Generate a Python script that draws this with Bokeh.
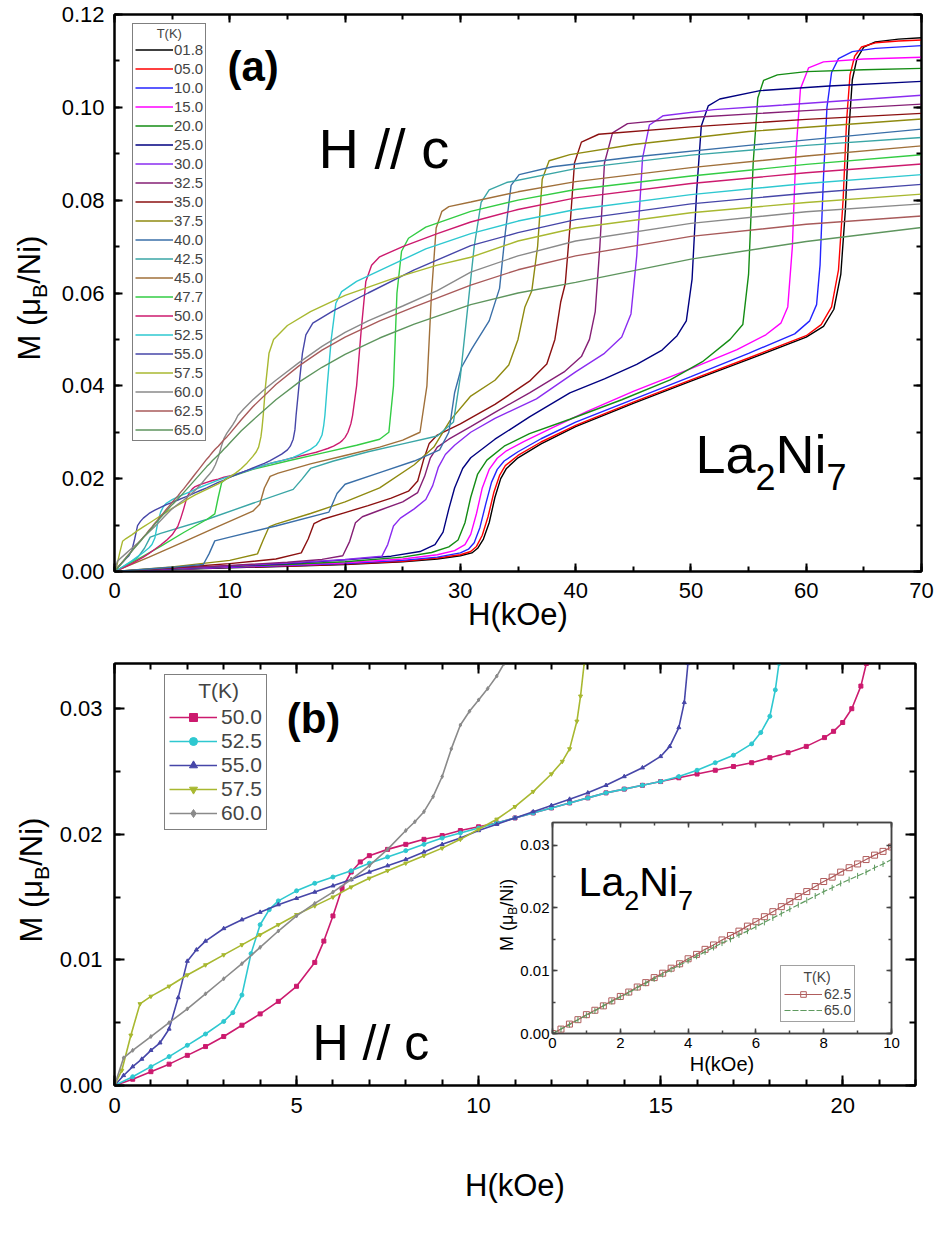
from math import pi
from bokeh.plotting import figure
from bokeh.layouts import column
from bokeh.models import (Range1d, LinearAxis, SingleIntervalTicker, PrintfTickFormatter,
                          CustomJSTickFormatter, Legend, LegendItem, Label)
from bokeh.embed import file_html
from bokeh.resources import INLINE

FONT = "Liberation Sans"
NB = "\u00a0"

# ------------------------------------------------------------------ panel (a) data
TEMPS_A = ["01.8", "05.0", "10.0", "15.0", "20.0", "25.0", "30.0", "32.5", "35.0", "37.5",
           "40.0", "42.5", "45.0", "47.7", "50.0", "52.5", "55.0", "57.5", "60.0", "62.5", "65.0"]
COLORS_A = ["#000000", "#ff0000", "#2424ff", "#ff00ff", "#148c14", "#000080", "#8a2cf0",
            "#851f75", "#8b1010", "#8f8a10", "#3a6fa8", "#3aa6a6", "#a0703a", "#33cc44",
            "#cc1a6e", "#2ec8d0", "#4646a8", "#a8b830", "#8a8a8a", "#a85a5a", "#5e955e"]

H_01_8 = [0, 5, 10, 15, 20, 25, 28, 30, 31, 31.5, 32.0, 32.5, 33.0, 33.5, 34.0, 35.0, 37.0, 40, 45, 50, 55, 60, 61.5, 62.4, 63.0, 63.4, 63.7, 64.0, 64.4, 65.0, 66, 68, 70]
M_01_8 = [0, 0.0004, 0.0008, 0.0011, 0.0015, 0.0021, 0.0027, 0.0034, 0.0040, 0.0050, 0.0070, 0.0105, 0.0160, 0.0200, 0.0222, 0.0245, 0.0275, 0.0312, 0.0362, 0.0410, 0.0457, 0.0505, 0.0528, 0.0565, 0.0640, 0.0780, 0.0950, 0.1060, 0.1105, 0.1130, 0.1141, 0.1147, 0.1150]
H_05_0 = [0, 5, 10, 15, 20, 25, 28, 30, 30.9, 31.4, 31.9, 32.4, 32.9, 33.4, 33.9, 35.0, 37.0, 40, 45, 50, 55, 60, 61.3, 62.2, 62.8, 63.2, 63.5, 63.8, 64.2, 64.8, 66, 68, 70]
M_05_0 = [0, 0.0005, 0.0009, 0.0012, 0.0016, 0.0022, 0.0029, 0.0036, 0.0043, 0.0054, 0.0078, 0.0118, 0.0170, 0.0207, 0.0228, 0.0250, 0.0279, 0.0315, 0.0365, 0.0413, 0.0460, 0.0508, 0.0532, 0.0570, 0.0650, 0.0800, 0.0970, 0.1070, 0.1110, 0.1130, 0.1139, 0.1143, 0.1145]
H_10_0 = [0, 5, 10, 15, 20, 25, 28, 30, 30.7, 31.2, 31.7, 32.2, 32.7, 33.2, 33.8, 35.0, 37.0, 40, 45, 50, 55, 59, 60.3, 60.9, 61.2, 61.5, 61.8, 62.2, 62.8, 64, 66, 70]
M_10_0 = [0, 0.0005, 0.0009, 0.0013, 0.0017, 0.0024, 0.0031, 0.0040, 0.0048, 0.0062, 0.0095, 0.0145, 0.0192, 0.0220, 0.0238, 0.0258, 0.0286, 0.0322, 0.0371, 0.0420, 0.0470, 0.0512, 0.0540, 0.0575, 0.0660, 0.0850, 0.1000, 0.1075, 0.1105, 0.1120, 0.1127, 0.1133]
H_15_0 = [0, 5, 10, 15, 20, 25, 28, 29.5, 30.4, 30.9, 31.4, 31.9, 32.5, 33.2, 34, 35.5, 38, 41, 45, 50, 54, 56.5, 57.8, 58.4, 58.8, 59.1, 59.5, 60.2, 61.5, 65, 70]
M_15_0 = [0, 0.0005, 0.0010, 0.0014, 0.0019, 0.0027, 0.0036, 0.0045, 0.0058, 0.0080, 0.0125, 0.0180, 0.0220, 0.0244, 0.0260, 0.0280, 0.0310, 0.0345, 0.0388, 0.0437, 0.0478, 0.0510, 0.0535, 0.0570, 0.0700, 0.0900, 0.1040, 0.1085, 0.1098, 0.1104, 0.1108]
H_20_0 = [0, 5, 10, 15, 20, 25, 27.5, 29, 29.8, 30.4, 30.9, 31.5, 32.3, 33.8, 36, 39.5, 44, 48.2, 51, 53.4, 54.5, 55.0, 55.4, 55.8, 56.3, 57.5, 60, 65, 70]
M_20_0 = [0, 0.0005, 0.0011, 0.0015, 0.0021, 0.0031, 0.0041, 0.0053, 0.0068, 0.0105, 0.0160, 0.0210, 0.0240, 0.0270, 0.0297, 0.0328, 0.0370, 0.0413, 0.0452, 0.0500, 0.0532, 0.0640, 0.0880, 0.1020, 0.1058, 0.1070, 0.1077, 0.1081, 0.1084]
H_25_0 = [0, 5, 10, 15, 20, 24, 26.5, 27.8, 28.5, 29.0, 29.5, 30.2, 30.9, 33, 36, 39.5, 42.5, 45.3, 47.5, 48.8, 49.6, 50.1, 50.5, 50.9, 51.5, 52.5, 56, 62, 70]
M_25_0 = [0, 0.0006, 0.0012, 0.0017, 0.0025, 0.0033, 0.0043, 0.0058, 0.0085, 0.0135, 0.0180, 0.0222, 0.0245, 0.0285, 0.0333, 0.0385, 0.0415, 0.0446, 0.0477, 0.0508, 0.0540, 0.0630, 0.0820, 0.0960, 0.1003, 0.1018, 0.1036, 0.1046, 0.1056]
H_30_0 = [0, 5, 10, 15, 20, 23.2, 23.7, 24.2, 24.8, 26.0, 27.0, 27.6, 28.1, 28.7, 29.5, 30.9, 33, 36.6, 40, 42.5, 44.0, 44.8, 45.3, 45.8, 46.4, 47.6, 52, 58, 70]
M_30_0 = [0, 0.0006, 0.0012, 0.0018, 0.0026, 0.0033, 0.0058, 0.0098, 0.0115, 0.0135, 0.0155, 0.0185, 0.0225, 0.0252, 0.0272, 0.0300, 0.0330, 0.0372, 0.0430, 0.0470, 0.0505, 0.0555, 0.0680, 0.0890, 0.0962, 0.0982, 0.0995, 0.1005, 0.1026]
H_32_5 = [0, 5, 10, 15, 18, 19.8, 20.4, 20.9, 21.5, 23, 25, 26.3, 26.9, 27.4, 28.0, 29, 30.9, 33, 36, 39, 40.5, 41.2, 41.7, 42.1, 42.5, 43.2, 44.5, 50, 60, 70]
M_32_5 = [0, 0.0007, 0.0013, 0.0020, 0.0026, 0.0034, 0.0065, 0.0105, 0.0118, 0.0132, 0.0150, 0.0170, 0.0205, 0.0245, 0.0268, 0.0285, 0.0312, 0.0343, 0.0385, 0.0430, 0.0463, 0.0500, 0.0560, 0.0700, 0.0880, 0.0945, 0.0965, 0.0978, 0.0993, 0.1007]
H_35_0 = [0, 5, 10, 14, 16.2, 16.8, 17.3, 18, 20, 22, 24, 25.5, 26.3, 26.8, 27.3, 28, 30, 33, 36, 37.5, 38.2, 38.7, 39.1, 39.5, 39.9, 40.5, 42, 50, 60, 70]
M_35_0 = [0, 0.0008, 0.0017, 0.0027, 0.0040, 0.0070, 0.0103, 0.0112, 0.0127, 0.0142, 0.0158, 0.0173, 0.0195, 0.0240, 0.0276, 0.0294, 0.0318, 0.0360, 0.0410, 0.0447, 0.0500, 0.0580, 0.0620, 0.0740, 0.0880, 0.0925, 0.0942, 0.0958, 0.0974, 0.0987]
H_37_5 = [0, 5, 10, 12.4, 12.9, 13.4, 14, 17, 20, 23, 26, 27.7, 29.1, 30.9, 33.0, 34.2, 35.0, 35.6, 36.2, 36.7, 37.1, 37.7, 39.5, 45, 55, 70]
M_37_5 = [0, 0.0010, 0.0024, 0.0038, 0.0068, 0.0096, 0.0102, 0.0125, 0.0150, 0.0180, 0.0230, 0.0268, 0.0325, 0.0378, 0.0412, 0.0445, 0.0500, 0.0570, 0.0605, 0.0700, 0.0845, 0.0885, 0.0898, 0.0920, 0.0948, 0.0975]
H_40_0 = [0, 5, 7.7, 8.2, 8.7, 10, 14, 18.6, 19.3, 20.0, 23, 26, 28.2, 29.0, 29.5, 30.1, 31, 32.5, 33.4, 33.9, 34.4, 35.1, 38, 45, 55, 70]
M_40_0 = [0, 0.0009, 0.0015, 0.0038, 0.0066, 0.0074, 0.0098, 0.0128, 0.0168, 0.0188, 0.0213, 0.0238, 0.0262, 0.0300, 0.0385, 0.0440, 0.0480, 0.0540, 0.0610, 0.0730, 0.0832, 0.0855, 0.0872, 0.0893, 0.0918, 0.0953]
H_42_5 = [0, 1, 2, 2.6, 3.1, 4, 8, 12, 15.5, 16.3, 17.0, 19, 22, 25, 28, 29.4, 30.0, 30.6, 31.2, 31.8, 32.5, 34, 40, 50, 60, 70]
M_42_5 = [0, 0.0014, 0.0030, 0.0050, 0.0074, 0.0082, 0.0112, 0.0147, 0.0177, 0.0200, 0.0222, 0.0238, 0.0258, 0.0275, 0.0292, 0.0322, 0.0420, 0.0560, 0.0700, 0.0795, 0.0822, 0.0838, 0.0868, 0.0897, 0.0918, 0.0935]
H_45_0 = [0, 3, 6, 9, 12, 12.6, 13.0, 13.5, 14.2, 17, 20, 23, 25, 26.5, 27.1, 27.5, 27.9, 28.4, 29, 30.9, 35, 40, 50, 60, 70]
M_45_0 = [0, 0.0031, 0.0064, 0.0097, 0.0130, 0.0145, 0.0180, 0.0205, 0.0212, 0.0232, 0.0250, 0.0268, 0.0283, 0.0300, 0.0400, 0.0600, 0.0740, 0.0776, 0.0786, 0.0796, 0.0818, 0.0840, 0.0870, 0.0895, 0.0917]
H_47_7 = [0, 2, 4, 6, 8, 8.7, 9.0, 9.3, 9.8, 12, 15, 18, 21, 23, 23.8, 24.2, 24.5, 24.9, 25.5, 27, 30.9, 35, 40, 50, 60, 70]
M_47_7 = [0, 0.0026, 0.0054, 0.0084, 0.0112, 0.0124, 0.0160, 0.0192, 0.0202, 0.0220, 0.0238, 0.0255, 0.0272, 0.0285, 0.0300, 0.0400, 0.0600, 0.0690, 0.0718, 0.0742, 0.0776, 0.0800, 0.0823, 0.0852, 0.0877, 0.0898]

# ------------------------------------------------------------------ panel (b) data (50-60 K, low field)
TEMPS_B = ["50.0", "52.5", "55.0", "57.5", "60.0"]
MARKERS_B = ["square", "circle", "triangle", "inverted_triangle", "diamond"]

H_B_50_0 = [0, 0.5, 1, 1.5, 2, 2.5, 3, 3.5, 4, 4.5, 5, 5.5, 5.75, 6.0, 6.25, 6.5, 6.75, 7, 7.5, 8, 8.5, 9, 9.5, 10, 10.5, 11, 11.5, 12, 12.5, 13, 13.5, 14, 14.5, 15, 15.5, 16, 16.5, 17, 17.5, 18, 18.5, 19, 19.5, 19.75, 20, 20.25, 20.5, 20.65]
M_B_50_0 = [0, 0.0005, 0.0011, 0.0017, 0.0024, 0.0031, 0.0039, 0.0048, 0.0057, 0.0067, 0.0079, 0.0098, 0.0115, 0.0135, 0.0157, 0.0170, 0.0178, 0.0183, 0.0188, 0.0192, 0.0196, 0.0199, 0.0203, 0.0206, 0.0209, 0.0213, 0.0217, 0.0221, 0.0225, 0.0229, 0.0233, 0.0236, 0.0239, 0.0242, 0.0245, 0.0248, 0.0251, 0.0254, 0.0257, 0.0261, 0.0265, 0.0270, 0.0277, 0.0282, 0.0289, 0.0300, 0.0318, 0.0336]
H_B_52_5 = [0, 0.5, 1, 1.5, 2, 2.5, 3, 3.25, 3.5, 3.75, 4, 4.25, 4.5, 5, 5.5, 6, 6.5, 7, 7.5, 8, 8.5, 9, 9.5, 10, 10.5, 11, 11.5, 12, 12.5, 13, 13.5, 14, 14.5, 15, 15.5, 16, 16.5, 17, 17.5, 17.75, 18, 18.15, 18.25]
M_B_52_5 = [0, 0.0007, 0.0015, 0.0023, 0.0032, 0.0041, 0.0051, 0.0058, 0.0072, 0.0105, 0.0128, 0.0140, 0.0147, 0.0155, 0.0161, 0.0166, 0.0171, 0.0177, 0.0182, 0.0187, 0.0192, 0.0197, 0.0201, 0.0205, 0.0209, 0.0213, 0.0217, 0.0221, 0.0225, 0.0229, 0.0233, 0.0236, 0.0239, 0.0242, 0.0246, 0.0251, 0.0257, 0.0263, 0.0272, 0.0281, 0.0294, 0.0315, 0.0336]
H_B_55_0 = [0, 0.25, 0.5, 0.75, 1, 1.25, 1.5, 1.75, 2, 2.25, 2.5, 3, 3.5, 4, 4.5, 5, 5.5, 6, 6.5, 7, 7.5, 8, 8.5, 9, 9.5, 10, 10.5, 11, 11.5, 12, 12.5, 13, 13.5, 14, 14.5, 15, 15.25, 15.5, 15.65, 15.75]
M_B_55_0 = [0, 0.0008, 0.0015, 0.0021, 0.0028, 0.0034, 0.0045, 0.0070, 0.0099, 0.0108, 0.0115, 0.0125, 0.0132, 0.0138, 0.0144, 0.0149, 0.0154, 0.0159, 0.0164, 0.0170, 0.0175, 0.0180, 0.0186, 0.0192, 0.0197, 0.0203, 0.0208, 0.0213, 0.0218, 0.0223, 0.0228, 0.0233, 0.0239, 0.0246, 0.0253, 0.0262, 0.0270, 0.0285, 0.0305, 0.0336]
H_B_57_5 = [0, 0.2, 0.45, 0.7, 1, 1.5, 2, 2.5, 3, 3.5, 4, 4.5, 5, 5.5, 6, 6.5, 7, 7.5, 8, 8.5, 9, 9.5, 10, 10.5, 11, 11.5, 12, 12.3, 12.5, 12.7, 12.8, 12.9]
M_B_57_5 = [0, 0.0012, 0.0040, 0.0065, 0.0071, 0.0079, 0.0088, 0.0096, 0.0104, 0.0112, 0.0120, 0.0128, 0.0136, 0.0143, 0.0150, 0.0158, 0.0165, 0.0171, 0.0177, 0.0183, 0.0189, 0.0196, 0.0204, 0.0212, 0.0222, 0.0234, 0.0248, 0.0258, 0.0268, 0.0290, 0.0310, 0.0336]
H_B_60_0 = [0, 0.25, 0.5, 1, 1.5, 2, 2.5, 3, 3.5, 4, 4.5, 5, 5.5, 6, 6.5, 7, 7.5, 8, 8.25, 8.5, 8.75, 9, 9.25, 9.5, 9.75, 10, 10.25, 10.5, 10.7]
M_B_60_0 = [0, 0.0022, 0.0028, 0.0039, 0.0050, 0.0061, 0.0073, 0.0085, 0.0097, 0.0110, 0.0123, 0.0135, 0.0145, 0.0154, 0.0164, 0.0175, 0.0188, 0.0203, 0.0210, 0.0218, 0.0230, 0.0246, 0.0268, 0.0287, 0.0298, 0.0307, 0.0316, 0.0326, 0.0336]

# high-field continuation of the 50-60 K curves (panel a)
H_X_50_0 = [21.0, 21.4, 21.8, 22.3, 23, 25, 28, 30.9, 35, 40, 50, 60, 70]
M_X_50_0 = [0.0400, 0.0520, 0.0625, 0.0660, 0.0678, 0.0700, 0.0728, 0.0753, 0.0780, 0.0805, 0.0836, 0.0859, 0.0878]
H_X_52_5 = [18.45, 18.8, 19.2, 19.7, 21, 24, 27, 30.9, 35, 40, 50, 60, 70]
M_X_52_5 = [0.0400, 0.0500, 0.0578, 0.0603, 0.0625, 0.0660, 0.0695, 0.0728, 0.0755, 0.0780, 0.0812, 0.0836, 0.0855]
H_X_55_0 = [16.0, 16.3, 16.6, 17.2, 19, 22, 26, 30.9, 35, 40, 50, 60, 70]
M_X_55_0 = [0.0400, 0.0470, 0.0510, 0.0535, 0.0562, 0.0600, 0.0650, 0.0702, 0.0730, 0.0758, 0.0792, 0.0815, 0.0834]
H_X_57_5 = [13.1, 13.4, 13.8, 15, 17, 20, 24, 28, 30.9, 35, 40, 50, 60, 70]
M_X_57_5 = [0.0400, 0.0470, 0.0500, 0.0530, 0.0560, 0.0595, 0.0630, 0.0660, 0.0677, 0.0712, 0.0740, 0.0773, 0.0795, 0.0813]
H_X_60_0 = [11.2, 12, 13, 14, 16, 18, 20, 22, 25, 28, 30.9, 35, 40, 50, 60, 70]
M_X_60_0 = [0.0350, 0.0370, 0.0392, 0.0412, 0.0450, 0.0485, 0.0515, 0.0540, 0.0572, 0.0605, 0.0645, 0.0680, 0.0712, 0.0750, 0.0775, 0.0792]

# ------------------------------------------------------------------ inset data (62.5, 65 K)
H_IN = [0, 0.25, 0.5, 0.75, 1.0, 1.25, 1.5, 1.75, 2.0, 2.25, 2.5, 2.75, 3.0, 3.25, 3.5, 3.75, 4.0, 4.25, 4.5, 4.75,
        5.0, 5.25, 5.5, 5.75, 6.0, 6.25, 6.5, 6.75, 7.0, 7.25, 7.5, 7.75, 8.0, 8.25, 8.5, 8.75, 9.0, 9.25, 9.5, 9.75, 10.0]
M_IN_62_5 = [0, 0.0007, 0.0015, 0.0022, 0.0030, 0.0037, 0.0044, 0.0052, 0.0059, 0.0066, 0.0074, 0.0081, 0.0089, 0.0096,
             0.0104, 0.0111, 0.0119, 0.0126, 0.0134, 0.0141, 0.0149, 0.0156, 0.0163, 0.0171, 0.0178, 0.0186, 0.0194,
             0.0202, 0.0210, 0.0218, 0.0226, 0.0234, 0.0242, 0.0249, 0.0257, 0.0264, 0.0270, 0.0277, 0.0284, 0.0290, 0.0297]
M_IN_65_0 = [0, 0.0007, 0.0014, 0.0022, 0.0029, 0.0036, 0.0044, 0.0051, 0.0058, 0.0065, 0.0073, 0.0080, 0.0087, 0.0094,
             0.0102, 0.0109, 0.0116, 0.0123, 0.0130, 0.0137, 0.0144, 0.0150, 0.0157, 0.0163, 0.0170, 0.0177, 0.0184,
             0.0191, 0.0198, 0.0205, 0.0212, 0.0219, 0.0226, 0.0232, 0.0239, 0.0245, 0.0251, 0.0257, 0.0264, 0.0270, 0.0277]
H_X_62_5 = [11, 12, 14, 16, 18, 20, 23, 26, 30.9, 35, 40, 50, 60, 70]
M_X_62_5 = [0.0327, 0.0355, 0.0403, 0.0443, 0.0477, 0.0505, 0.0540, 0.0570, 0.0617, 0.0650, 0.0680, 0.0722, 0.0748, 0.0766]
H_X_65_0 = [11, 12, 14, 16, 18, 20, 23, 26, 30.9, 35, 40, 50, 60, 70]
M_X_65_0 = [0.0303, 0.0326, 0.0370, 0.0408, 0.0440, 0.0468, 0.0503, 0.0533, 0.0575, 0.0600, 0.0623, 0.0673, 0.0711, 0.0741]
IN_TEMPS = ["62.5", "65.0"]
IN_COLORS = ["#b05c5c", "#5f9a5f"]

SERIES_B = {
    "50.0": (H_B_50_0, M_B_50_0), "52.5": (H_B_52_5, M_B_52_5), "55.0": (H_B_55_0, M_B_55_0),
    "57.5": (H_B_57_5, M_B_57_5), "60.0": (H_B_60_0, M_B_60_0),
}
EXT = {
    "50.0": (H_X_50_0, M_X_50_0), "52.5": (H_X_52_5, M_X_52_5), "55.0": (H_X_55_0, M_X_55_0),
    "57.5": (H_X_57_5, M_X_57_5), "60.0": (H_X_60_0, M_X_60_0),
}
SERIES_A = {
    "01.8": (H_01_8, M_01_8), "05.0": (H_05_0, M_05_0), "10.0": (H_10_0, M_10_0), "15.0": (H_15_0, M_15_0),
    "20.0": (H_20_0, M_20_0), "25.0": (H_25_0, M_25_0), "30.0": (H_30_0, M_30_0), "32.5": (H_32_5, M_32_5),
    "35.0": (H_35_0, M_35_0), "37.5": (H_37_5, M_37_5), "40.0": (H_40_0, M_40_0), "42.5": (H_42_5, M_42_5),
    "45.0": (H_45_0, M_45_0), "47.7": (H_47_7, M_47_7),
}
for t in TEMPS_B:
    SERIES_A[t] = (SERIES_B[t][0] + EXT[t][0], SERIES_B[t][1] + EXT[t][1])
SERIES_A["62.5"] = (H_IN + H_X_62_5, M_IN_62_5 + M_X_62_5)
SERIES_A["65.0"] = (H_IN + H_X_65_0, M_IN_65_0 + M_X_65_0)
COLOR_OF = dict(zip(TEMPS_A, COLORS_A))

# ------------------------------------------------------------------ helpers
ADV = {"M": .833, " ": .278, "(": .333, ")": .333, "μ": .576, "B": .667, "/": .278,
       "N": .722, "i": .222, "L": .556, "a": .556, "2": .556, "7": .556}
MID = 0.35       # distance (in em) from the alphabetic baseline up to the text's middle

LEFT_B = 114     # common left border of every plot in the column (Bokeh aligns them)
RIGHT_B = 13     # common right border


def adv(s, fs):
    return sum(ADV[c] for c in s) * fs


def add_formula(p, x, y, parts, fs, sub_fs, drop, angle=0.0):
    """(x, y): start of the main baseline. Subscripts are smaller and dropped by `drop` px."""
    off = 0.0
    for txt, sub in parts:
        size = sub_fs if sub else fs
        up = MID * size - (drop if sub else 0)        # offset of the anchor above the baseline
        if angle == 0.0:
            xo, yo = off, up
        else:
            xo, yo = -up, off
        p.add_layout(Label(x=x, y=y, text=txt, x_offset=xo, y_offset=yo, angle=angle,
                           text_align="left", text_baseline="middle", text_font=FONT,
                           text_font_size=f"{size}px", text_color="black"))
        off += adv(txt, size)


def make_fig(xr, yr, fw, fh, bt, bb):
    p = figure(frame_width=fw, frame_height=fh, x_range=Range1d(*xr), y_range=Range1d(*yr),
               output_backend="svg", toolbar_location=None,
               min_border_left=LEFT_B, min_border_right=RIGHT_B, min_border_top=bt, min_border_bottom=bb)
    p.xgrid.visible = False
    p.ygrid.visible = False
    p.background_fill_color = "white"
    p.border_fill_color = "white"
    return p


def style_axis(ax, fs, maj, mnr, lw, standoff, color="black"):
    ax.axis_line_width = lw
    ax.axis_line_color = color
    ax.major_tick_in = maj
    ax.major_tick_out = 0
    ax.minor_tick_in = mnr
    ax.minor_tick_out = 0
    ax.major_tick_line_width = lw
    ax.minor_tick_line_width = lw
    ax.major_tick_line_color = color
    ax.minor_tick_line_color = color
    ax.major_label_text_font = FONT
    ax.major_label_text_font_size = f"{fs}px"
    ax.major_label_text_color = "black"
    ax.major_label_standoff = standoff
    ax.axis_label_text_font = FONT
    ax.axis_label_text_font_style = "normal"
    ax.axis_label_text_color = "black"


def setup_axes(p, xint, xminor, yint, yminor, fs, maj, mnr, lw, xstand, ystand, color="black"):
    xa = p.below[0]
    ya = p.left[0]
    xa.ticker = SingleIntervalTicker(interval=xint, num_minor_ticks=xminor)
    ya.ticker = SingleIntervalTicker(interval=yint, num_minor_ticks=yminor)
    ya.formatter = PrintfTickFormatter(format="%.2f")
    style_axis(xa, fs, maj, mnr, lw, xstand, color)
    style_axis(ya, fs, maj, mnr, lw, ystand, color)
    for side, interval, minor in (("above", xint, xminor), ("right", yint, yminor)):
        ax = LinearAxis(ticker=SingleIntervalTicker(interval=interval, num_minor_ticks=minor),
                        formatter=CustomJSTickFormatter(code="return ''"))
        style_axis(ax, fs, maj, mnr, lw, 0, color)
        ax.major_label_standoff = 0
        p.add_layout(ax, side)
    p.outline_line_color = color
    p.outline_line_width = lw
    return xa, ya


# ------------------------------------------------------------------ panel (a)
pa = make_fig((0, 70), (0, 0.12), 807, 557, 14, 78)
xa_a, ya_a = setup_axes(pa, 10, 2, 0.02, 2, 22, 8, 5, 2, 11, 10)
xa_a.axis_label = "H(kOe)"
xa_a.axis_label_text_font_size = "31px"
xa_a.axis_label_standoff = -4

items_a = []
for t in TEMPS_A:
    h, m = SERIES_A[t]
    r = pa.line(h, m, line_color=COLOR_OF[t], line_width=1.4)
    items_a.append(LegendItem(label=t, renderers=[r]))
leg_a = Legend(items=items_a, location=(18, 130), title=NB * 6 + "T(K)",
               title_text_font=FONT, title_text_font_size="13px", title_text_font_style="normal",
               title_standoff=0, label_text_font=FONT, label_text_font_size="15px",
               glyph_width=38, glyph_height=15, label_height=15, label_standoff=1,
               spacing=2, padding=2, margin=0, border_line_color="black", border_line_width=1,
               background_fill_color="white", background_fill_alpha=1.0)
pa.add_layout(leg_a)

pa.add_layout(Label(x=9.8, y=0.1088, text="(a)", text_font=FONT, text_font_size="42px",
                    text_font_style="bold", text_baseline="middle", text_color="black"))
pa.add_layout(Label(x=17.7, y=0.0911, text="H // c", text_font=FONT, text_font_size="56px",
                    text_baseline="middle", text_color="black"))
add_formula(pa, 50.4, 0.0213, [("La", False), ("2", True), ("Ni", False), ("7", True)], 54, 36, 17)

# ------------------------------------------------------------------ panel (b)
pb = make_fig((0, 22), (0, 0.0336), 801, 422, 14, 110)
xa_b, ya_b = setup_axes(pb, 5, 5, 0.01, 2, 22, 10, 6, 2, 12, 12)
xa_b.axis_label = "H(kOe)"
xa_b.axis_label_text_font_size = "31px"
xa_b.axis_label_standoff = 52

items_b = []
for t, mk in zip(TEMPS_B, MARKERS_B):
    h, m = SERIES_A[t]
    c = COLOR_OF[t]
    rl = pb.line(h, m, line_color=c, line_width=1.6)
    rs = pb.scatter(h, m, marker=mk, size=4, line_color=c, fill_color=c)
    items_b.append(LegendItem(label=t, renderers=[rl, rs]))
leg_b = Legend(items=items_b, location=(50, 255), title=NB * 5 + "T(K)",
               title_text_font=FONT, title_text_font_size="21px", title_text_font_style="normal",
               title_standoff=2, label_text_font=FONT, label_text_font_size="21px",
               glyph_width=48, glyph_height=20, label_height=20, label_standoff=4,
               spacing=0, padding=4, margin=0, border_line_color="black", border_line_width=1,
               background_fill_color="white", background_fill_alpha=1.0)
pb.add_layout(leg_b)
pb.add_layout(Label(x=4.73, y=0.0292, text="(b)", text_font=FONT, text_font_size="42px",
                    text_font_style="bold", text_baseline="middle", text_color="black"))
pb.add_layout(Label(x=5.44, y=0.00342, text="H // c", text_font=FONT, text_font_size="50px",
                    text_baseline="middle", text_color="black"))

# ------------------------------------------------------------------ inset (overlaid on panel b)
ins = make_fig((0, 10), (0, 0.0336), 339, 211, 4, 50)
ins.border_fill_color = None
xa_i, ya_i = setup_axes(ins, 2, 2, 0.01, 2, 15, 5, 3, 1.5, 4, 3, color="#444444")
xa_i.axis_label = "H(kOe)"
xa_i.axis_label_text_font_size = "20px"
xa_i.axis_label_standoff = 2

r1 = ins.line(H_IN, M_IN_62_5, line_color=IN_COLORS[0], line_width=1.2)
s1 = ins.scatter(H_IN, M_IN_62_5, marker="square", size=6, line_color=IN_COLORS[0], fill_color=None)
r2 = ins.line(H_IN, M_IN_65_0, line_color=IN_COLORS[1], line_width=1.2, line_dash="6 2")
s2 = ins.scatter(H_IN, M_IN_65_0, marker="dash", angle=pi / 2, size=6, line_color=IN_COLORS[1])
leg_i = Legend(items=[LegendItem(label=IN_TEMPS[0], renderers=[r1, s1]),
                      LegendItem(label=IN_TEMPS[1], renderers=[r2, s2])],
               location=(228, 11), title=NB * 5 + "T(K)",
               title_text_font=FONT, title_text_font_size="14px", title_text_font_style="normal",
               title_standoff=1, label_text_font=FONT, label_text_font_size="14px",
               glyph_width=38, glyph_height=14, label_height=14, label_standoff=2,
               spacing=0, padding=3, margin=0, border_line_color="#444444", border_line_width=1,
               background_fill_color="white", background_fill_alpha=1.0)
ins.add_layout(leg_i)
add_formula(ins, 0.77, 0.0218, [("La", False), ("2", True), ("Ni", False), ("7", True)], 41, 27, 13)
INSET_FRAME_LEFT, INSET_FIG_TOP, PB_BOTTOM = 552, 808, 1195
ins.margin = (INSET_FIG_TOP - PB_BOTTOM, 0, 0, INSET_FRAME_LEFT - LEFT_B)

# ------------------------------------------------------------------ transparent overlay carrying the
# rotated y-axis titles; its frame starts at the page's top-left corner (coordinates = page pixels)
OV_W, OV_H = 540, 1195
ov = figure(frame_width=OV_W, frame_height=OV_H, x_range=Range1d(0, OV_W), y_range=Range1d(OV_H, 0),
            output_backend="svg", toolbar_location=None, min_border_left=LEFT_B, min_border_right=RIGHT_B,
            min_border_top=0, min_border_bottom=0, x_axis_type=None, y_axis_type=None)
ov.grid.visible = False
ov.outline_line_color = None
ov.background_fill_color = None
ov.border_fill_color = None
ov.margin = (-(INSET_FIG_TOP + 4 + 211 + 50), 0, 0, -LEFT_B)
YLAB = [("M (μ", False), ("B", True), ("/Ni)", False)]
add_formula(ov, 40, 350, YLAB, 31, 21, 6, angle=pi / 2)
add_formula(ov, 42, 932, YLAB, 31, 21, 6, angle=pi / 2)
add_formula(ov, 513, 940.5, YLAB, 18, 12, 4, angle=pi / 2)

layout = column(pa, pb, ins, ov, spacing=0)
open("out.html", "w").write(file_html(layout, INLINE))
